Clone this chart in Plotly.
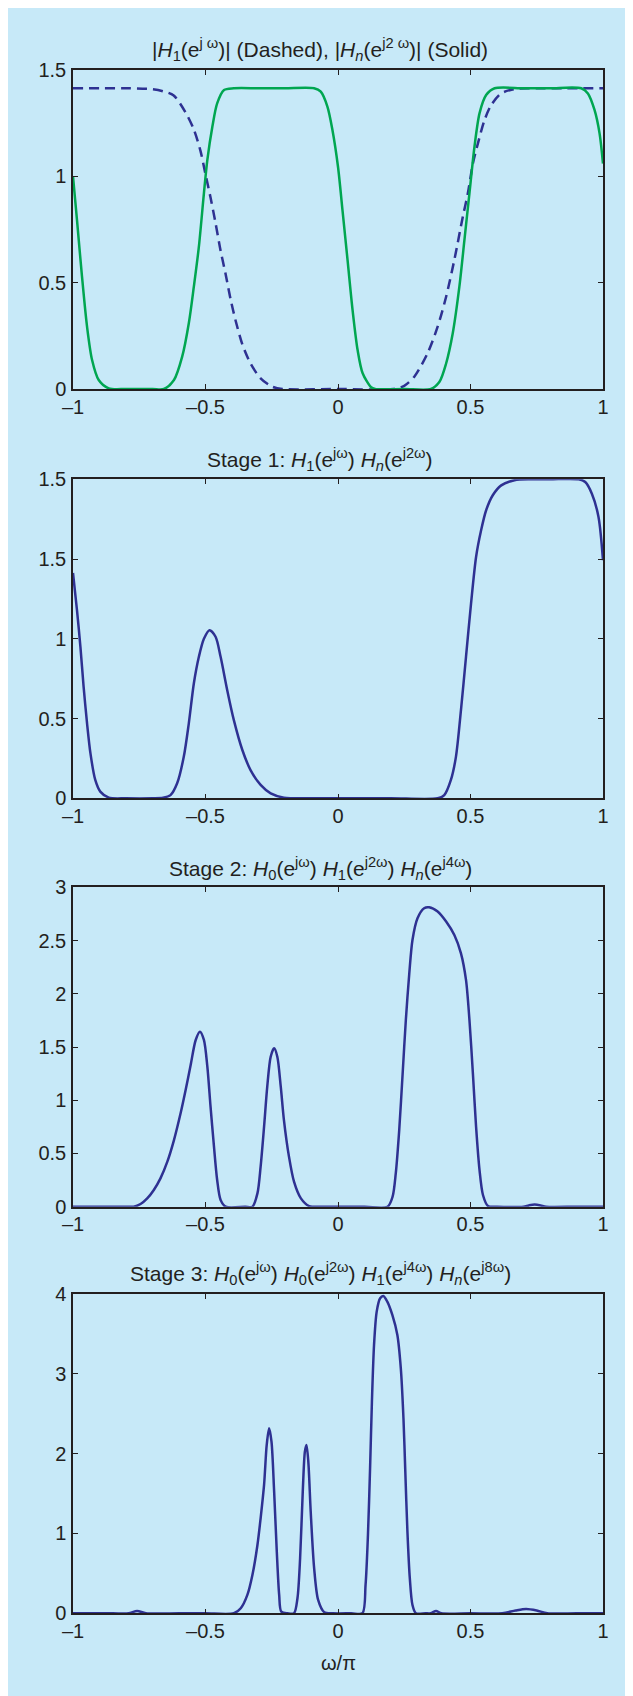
import plotly.graph_objects as go

# ---------------- data ----------------
# Panel 1: |H1(e^jw)| (dashed) and |Hn(e^j2w)| (solid)
h1_x = [-1.0, -0.9, -0.8, -0.7, -0.66, -0.62, -0.575, -0.544, -0.519, -0.5, -0.481, -0.462,
        -0.443, -0.424, -0.405, -0.386, -0.361, -0.33, -0.292, -0.25, -0.21, 0.0, 0.21, 0.25,
        0.288, 0.338, 0.376, 0.408, 0.439, 0.471, 0.49, 0.509, 0.528, 0.553, 0.578, 0.616,
        0.666, 0.75, 0.85, 1.0]
h1_y = [1.414, 1.414, 1.414, 1.41, 1.40, 1.38, 1.30, 1.22, 1.12, 1.01, 0.90, 0.78,
        0.65, 0.54, 0.42, 0.32, 0.21, 0.12, 0.05, 0.012, 0.0, 0.0, 0.0, 0.015,
        0.058, 0.168, 0.293, 0.434, 0.607, 0.81, 0.92, 1.06, 1.155, 1.265, 1.335, 1.39,
        1.41, 1.414, 1.414, 1.414]

hn_x = [-1.0, -0.985, -0.966, -0.947, -0.928, -0.903, -0.865, -0.8, -0.7, -0.657, -0.619,
        -0.588, -0.563, -0.544, -0.525, -0.506, -0.493, -0.474, -0.456, -0.43, -0.393, -0.3,
        -0.2, -0.09, -0.065, -0.04, -0.021, 0.0, 0.017, 0.036, 0.055, 0.074, 0.093, 0.125,
        0.14, 0.25, 0.351, 0.383, 0.408, 0.433, 0.458, 0.477, 0.496, 0.515, 0.534, 0.559,
        0.591, 0.7, 0.8, 0.918, 0.943, 0.968, 0.987, 1.0]
hn_y = [1.0, 0.795, 0.528, 0.293, 0.136, 0.042, 0.003, 0.0, 0.0, 0.0, 0.042,
        0.152, 0.309, 0.481, 0.669, 0.92, 1.077, 1.234, 1.343, 1.406, 1.414, 1.414,
        1.414, 1.414, 1.398, 1.328, 1.218, 1.045, 0.84, 0.607, 0.371, 0.183, 0.074, 0.008,
        0.0, 0.0, 0.0, 0.034, 0.12, 0.262, 0.481, 0.70, 0.92, 1.139, 1.296, 1.382,
        1.414, 1.414, 1.414, 1.414, 1.39, 1.312, 1.202, 1.06]

# Panel 2: Stage 1
s1_x = [-1.0, -0.985, -0.972, -0.96, -0.947, -0.934, -0.916, -0.897, -0.865, -0.8, -0.7,
        -0.66, -0.632, -0.607, -0.582, -0.563, -0.544, -0.525, -0.506, -0.485, -0.462,
        -0.443, -0.418, -0.393, -0.361, -0.33, -0.292, -0.254, -0.204, -0.1, 0.0, 0.2,
        0.376, 0.401, 0.426, 0.445, 0.464, 0.483, 0.502, 0.521, 0.54, 0.559, 0.584, 0.616,
        0.666, 0.729, 0.8, 0.908, 0.933, 0.958, 0.983, 1.0]
s1_y = [1.413, 1.18, 0.95, 0.70, 0.47, 0.28, 0.115, 0.042, 0.004, 0.0, 0.0,
        0.003, 0.02, 0.094, 0.26, 0.47, 0.72, 0.887, 1.0, 1.054, 1.013,
        0.887, 0.678, 0.49, 0.303, 0.177, 0.084, 0.031, 0.004, 0.0, 0.0, 0.0,
        0.0, 0.02, 0.115, 0.26, 0.553, 0.887, 1.22, 1.513, 1.68, 1.806, 1.9, 1.962,
        1.994, 2.0, 2.0, 2.0, 1.983, 1.91, 1.764, 1.493]

# Panel 3: Stage 2
s2_x = [-1.0, -0.9, -0.8, -0.771, -0.745, -0.72, -0.695, -0.67, -0.644, -0.619, -0.594,
        -0.575, -0.556, -0.537, -0.521, -0.506, -0.493, -0.481, -0.468, -0.456, -0.443,
        -0.424, -0.35, -0.323, -0.304, -0.292, -0.279, -0.267, -0.254, -0.241, -0.229,
        -0.216, -0.204, -0.185, -0.166, -0.14, -0.109, -0.05, 0.1, 0.187, 0.206, 0.218,
        0.231, 0.244, 0.256, 0.269, 0.281, 0.3, 0.325, 0.344, 0.376, 0.408, 0.439, 0.464,
        0.483, 0.496, 0.509, 0.521, 0.534, 0.547, 0.566, 0.6, 0.7, 0.72, 0.742, 0.765,
        0.785, 0.9, 1.0]
s2_y = [0.0, 0.0, 0.0, 0.0, 0.025, 0.078, 0.157, 0.266, 0.423, 0.626, 0.877,
        1.096, 1.331, 1.566, 1.644, 1.566, 1.315, 0.94, 0.564, 0.251, 0.063,
        0.0, 0.0, 0.0, 0.125, 0.376, 0.752, 1.127, 1.409, 1.488, 1.409,
        1.127, 0.814, 0.47, 0.235, 0.078, 0.006, 0.0, 0.0, 0.0, 0.094, 0.313,
        0.72, 1.253, 1.754, 2.192, 2.505, 2.709, 2.803, 2.812, 2.772, 2.678, 2.552, 2.38,
        2.13, 1.754, 1.253, 0.752, 0.345, 0.11, 0.006, 0.0, 0.0, 0.012, 0.02, 0.012,
        0.0, 0.0, 0.0]

# Panel 4: Stage 3
s3_x = [-1.0, -0.85, -0.79, -0.758, -0.725, -0.6, -0.5, -0.393, -0.367, -0.342, -0.323,
        -0.304, -0.292, -0.279, -0.269, -0.26, -0.251, -0.241, -0.231, -0.222, -0.214,
        -0.19, -0.166, -0.153, -0.143, -0.133, -0.125, -0.119, -0.112, -0.103, -0.09,
        -0.075, -0.052, -0.02, 0.05, 0.092, 0.104, 0.113, 0.121, 0.128, 0.136, 0.146,
        0.159, 0.171, 0.186, 0.205, 0.224, 0.237, 0.247, 0.254, 0.262, 0.271, 0.281,
        0.294, 0.33, 0.35, 0.37, 0.39, 0.5, 0.62, 0.67, 0.71, 0.75, 0.79, 0.9, 1.0]
s3_y = [0.0, 0.0, 0.0, 0.03, 0.0, 0.0, 0.0, 0.0, 0.063, 0.23, 0.48,
        0.856, 1.19, 1.608, 2.109, 2.317, 2.15, 1.524, 0.772, 0.23, 0.02,
        0.0, 0.0, 0.188, 0.689, 1.524, 2.025, 2.109, 1.9, 1.273, 0.564,
        0.167, 0.013, 0.0, 0.0, 0.0, 0.355, 0.981, 1.816, 2.651, 3.361, 3.779,
        3.946, 3.975, 3.904, 3.737, 3.486, 3.069, 2.443, 1.775, 1.023, 0.438, 0.104,
        0.0, 0.0, 0.0, 0.03, 0.0, 0.0, 0.0, 0.035, 0.054, 0.035, 0.0, 0.0, 0.0]

x_tickvals = [-1, -0.5, 0, 0.5, 1]
x_ticktext = ["\u20131", "\u20130.5", "0", "0.5", "1"]

p1_yticks = [0, 0.5, 1, 1.5]
p1_ytext = ["0", "0.5", "1", "1.5"]
p2_yticks = [0, 0.5, 1, 1.5, 2]
p2_ytext = ["0", "0.5", "1", "1.5", "1.5"]
p3_yticks = [0, 0.5, 1, 1.5, 2, 2.5, 3]
p3_ytext = ["0", "0.5", "1", "1.5", "2", "2.5", "3"]
p4_yticks = [0, 1, 2, 3, 4]
p4_ytext = ["0", "1", "2", "3", "4"]

titles = [
    "|<i>H</i><sub>1</sub>(e<sup>j \u03c9</sup>)| (Dashed), |<i>H<sub>n</sub></i>(e<sup>j2 \u03c9</sup>)| (Solid)",
    "Stage 1: <i>H</i><sub>1</sub>(e<sup>j\u03c9</sup>) <i>H<sub>n</sub></i>(e<sup>j2\u03c9</sup>)",
    "Stage 2: <i>H</i><sub>0</sub>(e<sup>j\u03c9</sup>) <i>H</i><sub>1</sub>(e<sup>j2\u03c9</sup>) <i>H<sub>n</sub></i>(e<sup>j4\u03c9</sup>)",
    "Stage 3: <i>H</i><sub>0</sub>(e<sup>j\u03c9</sup>) <i>H</i><sub>0</sub>(e<sup>j2\u03c9</sup>) <i>H</i><sub>1</sub>(e<sup>j4\u03c9</sup>) <i>H<sub>n</sub></i>(e<sup>j8\u03c9</sup>)",
]

# ---------------- styling ----------------
W, H = 633, 1696
BG = "#c7e9f8"
INK = "#231f20"
BLUE = "#2e3192"
GREEN = "#00a651"
FONT = "Liberation Sans, Arial, Helvetica, sans-serif"

OFF = 8  # page body margin
# plot areas in page pixels (top, bottom), converted to figure pixels
areas = [(70 - OFF, 389 - OFF), (479.3 - OFF, 798.3 - OFF),
         (887.3 - OFF, 1206.7 - OFF), (1294 - OFF, 1613.3 - OFF)]
title_px = [49 - OFF, 459 - OFF, 868 - OFF, 1273 - OFF]
xlabel_px = 1663 - OFF
L = 72.7 - OFF
R = W - (603.3 - OFF)

fig = go.Figure()

fig.add_trace(go.Scatter(x=h1_x, y=h1_y, mode="lines", xaxis="x", yaxis="y",
                         line=dict(color=BLUE, width=2.5, dash="10px,6px", shape="spline", smoothing=0.8),
                         showlegend=False, hoverinfo="skip"))
fig.add_trace(go.Scatter(x=hn_x, y=hn_y, mode="lines", xaxis="x", yaxis="y",
                         line=dict(color=GREEN, width=2.5, shape="spline", smoothing=0.8),
                         showlegend=False, hoverinfo="skip"))
for i, (xs, ys) in enumerate([(s1_x, s1_y), (s2_x, s2_y), (s3_x, s3_y)], start=2):
    fig.add_trace(go.Scatter(x=xs, y=ys, mode="lines", xaxis=f"x{i}", yaxis=f"y{i}",
                             line=dict(color=BLUE, width=2.5, shape="spline", smoothing=0.8),
                             showlegend=False, hoverinfo="skip"))

yspecs = [
    ([0, 1.5], p1_yticks, p1_ytext),
    ([0, 2], p2_yticks, p2_ytext),
    ([0, 3], p3_yticks, p3_ytext),
    ([0, 4], p4_yticks, p4_ytext),
]

layout = dict(
    template="none",
    width=W, height=H,
    paper_bgcolor=BG, plot_bgcolor=BG,
    margin=dict(l=L, r=R, t=0, b=0, pad=0, autoexpand=False),
    font=dict(family=FONT, color=INK, size=20),
    annotations=[],
)
axis_common = dict(
    showline=True, linecolor=INK, linewidth=1.5, mirror="allticks",
    ticks="inside", ticklen=5, tickwidth=1, tickcolor=INK,
    showgrid=False, zeroline=False, fixedrange=True, automargin=False,
    tickfont=dict(family=FONT, size=20, color=INK),
)
for k, ((top, bot), (yr, yt, ytt)) in enumerate(zip(areas, yspecs), start=1):
    sfx = "" if k == 1 else str(k)
    dom = [1 - bot / H, 1 - top / H]
    layout[f"xaxis{sfx}"] = dict(axis_common, range=[-1, 1], tickvals=x_tickvals, ticktext=x_ticktext,
                                 anchor=f"y{sfx}", domain=[0, 1], ticklabelstandoff=-1)
    layout[f"yaxis{sfx}"] = dict(axis_common, range=yr, tickvals=yt, ticktext=ytt,
                                 anchor=f"x{sfx}", domain=dom, ticklabelstandoff=1)

plot_w = W - L - R
title_x = (320 - OFF - L) / plot_w
for k, ty in enumerate(title_px):
    layout["annotations"].append(dict(
        text=titles[k], xref="paper", yref="paper", x=title_x, y=1 - ty / H,
        xanchor="center", yanchor="middle", showarrow=False,
        font=dict(family=FONT, size=21, color=INK)))
layout["annotations"].append(dict(
    text="\u03c9/\u03c0", xref="paper", yref="paper", x=0.5, y=1 - xlabel_px / H,
    xanchor="center", yanchor="middle", showarrow=False,
    font=dict(family=FONT, size=20, color=INK)))

fig.update_layout(**layout)
fig.write_html("out.html")
